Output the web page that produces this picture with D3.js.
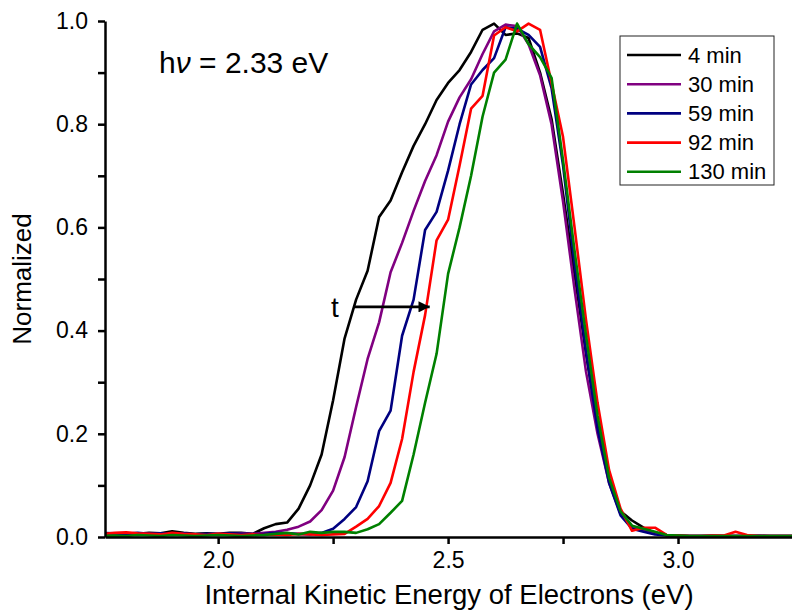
<!DOCTYPE html>
<html>
<head>
	<meta charset="utf-8">
	<title>d3-normalized-spectra</title>
	<script src="https://d3js.org/d3.v7.min.js"></script>
	<style>
		body { margin: 0; background: #fff; }
		svg { font-family: "Liberation Sans", Arial, sans-serif; }
	</style>
</head>
<body>
	<svg width="792" height="613"></svg>
	<script type="text/javascript">
		// energy grid (eV)
		var energy = [
			1.750, 1.775, 1.800, 1.825, 1.850, 1.875, 1.900, 1.925, 1.950, 1.975,
			2.000, 2.025, 2.050, 2.075, 2.100, 2.125, 2.150, 2.175, 2.200, 2.225,
			2.250, 2.275, 2.300, 2.325, 2.350, 2.375, 2.400, 2.425, 2.450, 2.475,
			2.500, 2.525, 2.550, 2.575, 2.600, 2.625, 2.650, 2.675, 2.700, 2.725,
			2.750, 2.775, 2.800, 2.825, 2.850, 2.875, 2.900, 2.925, 2.950, 2.975,
			3.000, 3.025, 3.050, 3.075, 3.100, 3.125, 3.150, 3.175, 3.200, 3.225,
			3.250
		];

		var min4 = [
			0.006, 0.005, 0.007, 0.006, 0.008, 0.007, 0.011, 0.008, 0.006, 0.007,
			0.006, 0.008, 0.008, 0.006, 0.017, 0.025, 0.028, 0.055, 0.100, 0.160,
			0.265, 0.385, 0.460, 0.516, 0.620, 0.652, 0.707, 0.758, 0.800, 0.847,
			0.880, 0.905, 0.940, 0.983, 0.995, 0.973, 0.976, 0.967, 0.900, 0.810,
			0.665, 0.510, 0.355, 0.215, 0.110, 0.050, 0.032, 0.018, 0.008, 0.004,
			0.003, 0.002, 0.002, 0.002, 0.002, 0.002, 0.002, 0.002, 0.002, 0.002,
			0.002
		];
		var min30 = [
			0.004, 0.006, 0.005, 0.004, 0.006, 0.005, 0.004, 0.006, 0.005, 0.005,
			0.006, 0.005, 0.007, 0.006, 0.008, 0.010, 0.014, 0.020, 0.030, 0.052,
			0.090, 0.155, 0.252, 0.345, 0.416, 0.513, 0.570, 0.632, 0.690, 0.740,
			0.805, 0.852, 0.887, 0.936, 0.980, 0.993, 0.990, 0.955, 0.895, 0.800,
			0.650, 0.480, 0.320, 0.200, 0.105, 0.045, 0.020, 0.012, 0.008, 0.004,
			0.003, 0.002, 0.002, 0.003, 0.002, 0.002, 0.002, 0.003, 0.002, 0.002,
			0.002
		];
		var min59 = [
			0.008, 0.007, 0.006, 0.008, 0.006, 0.007, 0.006, 0.007, 0.005, 0.006,
			0.005, 0.007, 0.006, 0.005, 0.006, 0.008, 0.007, 0.006, 0.005, 0.008,
			0.016, 0.035, 0.058, 0.108, 0.205, 0.245, 0.390, 0.460, 0.595, 0.630,
			0.710, 0.800, 0.877, 0.905, 0.928, 0.988, 0.985, 0.973, 0.950, 0.870,
			0.720, 0.530, 0.360, 0.210, 0.105, 0.042, 0.016, 0.010, 0.005, 0.003,
			0.002, 0.002, 0.002, 0.002, 0.002, 0.002, 0.002, 0.002, 0.002, 0.002,
			0.002
		];
		var min92 = [
			0.006, 0.008, 0.009, 0.007, 0.006, 0.005, 0.008, 0.006, 0.005, 0.004,
			0.006, 0.005, 0.004, 0.005, 0.004, 0.005, 0.004, 0.006, 0.005, 0.004,
			0.005, 0.006, 0.020, 0.035, 0.060, 0.105, 0.190, 0.320, 0.430, 0.575,
			0.615, 0.720, 0.830, 0.855, 0.972, 0.988, 0.980, 0.995, 0.983, 0.880,
			0.775, 0.600, 0.420, 0.260, 0.130, 0.055, 0.012, 0.018, 0.018, 0.004,
			0.003, 0.002, 0.002, 0.003, 0.003, 0.010, 0.004, 0.002, 0.002, 0.002,
			0.002
		];
		var min130 = [
			0.002, 0.003, 0.002, 0.004, 0.003, 0.002, 0.004, 0.003, 0.002, 0.003,
			0.004, 0.003, 0.002, 0.003, 0.004, 0.006, 0.008, 0.005, 0.010, 0.008,
			0.010, 0.010, 0.008, 0.015, 0.025, 0.047, 0.070, 0.160, 0.260, 0.355,
			0.510, 0.600, 0.700, 0.815, 0.900, 0.925, 0.995, 0.955, 0.930, 0.890,
			0.730, 0.555, 0.390, 0.235, 0.115, 0.050, 0.022, 0.016, 0.010, 0.004,
			0.003, 0.002, 0.002, 0.002, 0.002, 0.002, 0.002, 0.002, 0.002, 0.002,
			0.002
		];

		var seriesNames = ['4 min', '30 min', '59 min', '92 min', '130 min'];
		var seriesValues = [min4, min30, min59, min92, min130];
		var colors = ['#000000', '#800080', '#000080', '#ff0000', '#008000'];

		var xTicks = [2.0, 2.5, 3.0];
		var xMinor = [2.25, 2.75];
		var yTicks = [0, 0.2, 0.4, 0.6, 0.8, 1.0];
		var yMinor = [0.1, 0.3, 0.5, 0.7, 0.9];

		var svg = d3.select('svg');
		var plotL = 105, plotR = 793, plotT = 21, plotB = 537;

		var x = d3.scaleLinear().domain([1.754, 3.25]).range([plotL, plotR]);
		var y = d3.scaleLinear().domain([0, 1]).range([plotB, plotT]);

		svg.append('clipPath').attr('id', 'plot')
			.append('rect')
			.attr('x', plotL).attr('y', 0)
			.attr('width', plotR - plotL).attr('height', plotB + 2);

		var line = d3.line()
			.x((d, i) => x(energy[i]))
			.y(d => y(d));

		svg.append('g')
			.attr('clip-path', 'url(#plot)')
			.selectAll('path')
			.data(seriesValues)
			.enter().append('path')
			.attr('d', d => line(d))
			.attr('fill', 'none')
			.attr('stroke', (d, i) => colors[i])
			.attr('stroke-width', 2.6)
			.attr('stroke-linejoin', 'round');

		// axes
		svg.append('g')
			.attr('transform', 'translate(0,' + plotB + ')')
			.call(d3.axisBottom(x).tickValues(xTicks).tickFormat(d3.format('.1f'))
				.tickSize(7).tickSizeOuter(0).tickPadding(8));
		svg.append('g')
			.attr('transform', 'translate(0,' + plotB + ')')
			.call(d3.axisBottom(x).tickValues(xMinor).tickFormat('').tickSize(7).tickSizeOuter(0))
			.select('.domain').remove();

		svg.append('g')
			.attr('transform', 'translate(' + plotL + ',0)')
			.call(d3.axisLeft(y).tickValues(yTicks).tickFormat(d3.format('.1f'))
				.tickSize(7).tickSizeOuter(0).tickPadding(10));
		svg.append('g')
			.attr('transform', 'translate(' + plotL + ',0)')
			.call(d3.axisLeft(y).tickValues(yMinor).tickFormat('').tickSize(7).tickSizeOuter(0))
			.select('.domain').remove();

		svg.selectAll('.domain').attr('stroke', '#000').attr('stroke-width', 2.5);
		svg.selectAll('.tick line').attr('stroke', '#000').attr('stroke-width', 2.5);
		svg.selectAll('.tick text')
			.attr('fill', '#000')
			.style('font-family', '"Liberation Sans", Arial, sans-serif')
			.style('font-size', '23px');

		// axis titles
		svg.append('text')
			.attr('x', (plotL + plotR) / 2)
			.attr('y', 604)
			.attr('text-anchor', 'middle')
			.style('font-size', '27.5px')
			.text('Internal Kinetic Energy of Electrons (eV)');

		svg.append('text')
			.attr('transform', 'translate(31,' + ((plotT + plotB) / 2) + ') rotate(-90)')
			.attr('text-anchor', 'middle')
			.style('font-size', '26px')
			.text('Normalized');

		// photon energy note
		var note = svg.append('text')
			.attr('x', 159)
			.attr('y', 73)
			.style('font-size', '30px');
		note.append('tspan').text('h');
		note.append('tspan').style('font-style', 'italic').text('\u03bd');
		note.append('tspan').text(' = 2.33 eV');

		// time arrow
		svg.append('defs').append('marker')
			.attr('id', 'head')
			.attr('viewBox', '0 0 10 10')
			.attr('refX', 10).attr('refY', 5)
			.attr('markerWidth', 7).attr('markerHeight', 4)
			.attr('markerUnits', 'strokeWidth')
			.attr('orient', 'auto')
			.append('path')
			.attr('d', 'M0,0L10,5L0,10z')
			.attr('fill', '#000');

		svg.append('line')
			.attr('x1', x(2.294)).attr('x2', x(2.46))
			.attr('y1', y(0.446)).attr('y2', y(0.446))
			.attr('stroke', '#000')
			.attr('stroke-width', 2.8)
			.attr('marker-end', 'url(#head)');

		svg.append('text')
			.attr('x', 331)
			.attr('y', 317)
			.style('font-size', '28px')
			.text('t');

		// legend
		var lg = svg.append('g').attr('transform', 'translate(620,36)');
		lg.append('rect')
			.attr('width', 154).attr('height', 149)
			.attr('fill', '#fff')
			.attr('stroke', '#222')
			.attr('stroke-width', 1);

		var rows = lg.selectAll('.row')
			.data(seriesNames)
			.enter().append('g')
			.attr('transform', (d, i) => 'translate(0,' + (19 + i * 29.2) + ')');
		rows.append('line')
			.attr('x1', 7).attr('x2', 61)
			.attr('stroke', (d, i) => colors[i])
			.attr('stroke-width', 2.6);
		rows.append('text')
			.attr('x', 68).attr('y', 7.5)
			.style('font-size', '22px')
			.text(d => d);
	</script>
</body>
</html>
